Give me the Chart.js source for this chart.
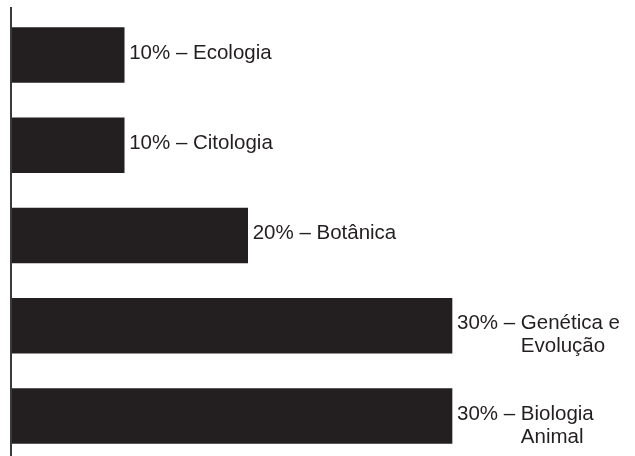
<!DOCTYPE html>
<html>
<head>
<meta charset="utf-8">
<script src="https://cdn.jsdelivr.net/npm/chart.js@4/dist/chart.umd.min.js"></script>
<style>
  html, body { margin:0; padding:0; background:#fff; }
  #wrap { width:635px; height:456px; }
</style>
</head>
<body>
<div id="wrap"><canvas id="chart"></canvas></div>
<script>
const categories = ['Ecologia', 'Citologia', 'Botânica', 'Genética e Evolução', 'Biologia Animal'];
const percents   = ['10%', '10%', '20%', '30%', '30%'];
// drawn bar lengths (the drawing is not to scale, 30% bar = full length)
const barLengths = [7.7, 7.7, 16.1, 30, 30];
const labelLines = [['Ecologia'], ['Citologia'], ['Botânica'], ['Genética e', 'Evolução'], ['Biologia', 'Animal']];

const ink = '#231f20';

// draws the vertical axis line and the text next to each bar
const barText = {
  id: 'barText',
  afterDatasetsDraw(chart) {
    const { ctx, chartArea } = chart;
    ctx.save();
    ctx.strokeStyle = '#3a3a3a';
    ctx.lineWidth = 2;
    ctx.beginPath();
    ctx.moveTo(chartArea.left, 7);
    ctx.lineTo(chartArea.left, chart.height);
    ctx.stroke();

    ctx.font = '20.5px "Liberation Sans", Arial, sans-serif';
    ctx.fillStyle = ink;
    ctx.textBaseline = 'middle';
    chart.getDatasetMeta(0).data.forEach((bar, i) => {
      const x = bar.x + 5;
      const y = bar.y - 2;
      const prefix = percents[i] + ' – ';
      ctx.fillText(prefix, x, y);
      const x2 = x + ctx.measureText(prefix).width;
      labelLines[i].forEach((line, j) => ctx.fillText(line, x2, y + j * 23));
    });
    ctx.restore();
  }
};

new Chart(document.getElementById('chart'), {
  type: 'bar',
  data: {
    labels: categories,
    datasets: [{
      data: barLengths,
      backgroundColor: ink,
      borderWidth: 0,
      barThickness: 55,
      clip: false
    }]
  },
  options: {
    indexAxis: 'y',
    responsive: true,
    maintainAspectRatio: false,
    animation: false,
    layout: { padding: { left: 11, right: 183, top: 55, bottom: 40 } },
    scales: {
      x: { display: false, min: 0, max: 30 },
      y: { display: false, offset: false }
    },
    plugins: { legend: { display: false }, tooltip: { enabled: false } }
  },
  plugins: [barText]
});
</script>
</body>
</html>
